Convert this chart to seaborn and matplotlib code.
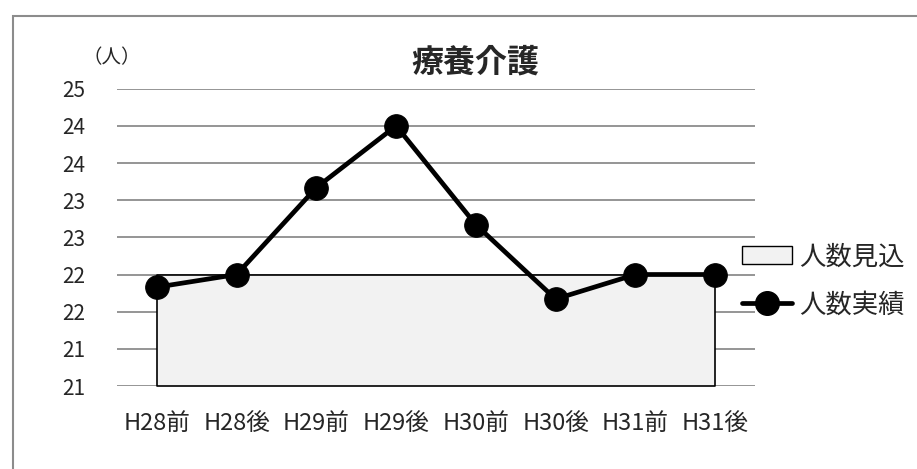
import matplotlib
matplotlib.use("Agg")
import matplotlib.pyplot as plt
import numpy as np
import pandas as pd
import seaborn as sns
from matplotlib.patches import Rectangle, Patch
from matplotlib.lines import Line2D

# data
periods = ["H28前", "H28後", "H29前", "H29後", "H30前", "H30後", "H31前", "H31後"]
actual = [22.33, 22.5, 23.67, 24.5, 23.17, 22.17, 22.5, 22.5]
planned = [22.5, 22.5, 22.5, 22.5, 22.5, 22.5, 22.5, 22.5]
y_ticks = [21, 21.5, 22, 22.5, 23, 23.5, 24, 24.5, 25]
y_tick_labels = ["21", "21", "22", "22", "23", "23", "24", "24", "25"]

sns.set_theme(style="white")
plt.rcParams["font.family"] = ["Noto Sans CJK JP", "DejaVu Sans"]

df = pd.DataFrame({"period": periods, "actual": actual, "planned": planned})
x = np.arange(len(periods))

fig = plt.figure(figsize=(9.17, 4.69), dpi=100)
ax = fig.add_axes([117 / 917, 1 - 386 / 469, (755 - 117) / 917, (386 - 88.7) / 469])

# outer frame of the chart area
fig.patches.append(Rectangle((13 / 917, -0.05), 1.1, 0.05 + 1 - 16 / 469,
                             transform=fig.transFigure, fill=False,
                             edgecolor="#8c8c8c", linewidth=1.5, zorder=0))

for t in y_ticks:
    ax.axhline(t, color="#8c8c8c", linewidth=1.3, zorder=1)

ax.fill_between(x, y_ticks[0], df["planned"], facecolor="#f2f2f2",
                edgecolor="black", linewidth=1.2, zorder=2)

sns.lineplot(data=df, x=x, y="actual", ax=ax, color="black", linewidth=3.4,
             marker="o", markersize=17, markeredgecolor="black", zorder=3)

ax.set_xlim(-0.5, len(periods) - 0.5)
ax.set_ylim(y_ticks[0], y_ticks[-1])
ax.set_xticks(x)
ax.set_xticklabels(periods, fontsize=17)
ax.set_yticks(y_ticks)
ax.set_yticklabels(y_tick_labels, fontsize=15)
ax.tick_params(axis="y", length=0, pad=23)
ax.tick_params(axis="x", length=0, pad=19)
ax.set_xlabel("")
ax.set_ylabel("")
for s in ax.spines.values():
    s.set_visible(False)

fig.text(475 / 917, 1 - 62 / 469, "療養介護", fontsize=23, fontweight="bold",
         ha="center", va="center")
fig.text(112 / 917, 1 - 58 / 469, "（人）", fontsize=14, ha="center", va="center")

handles = [
    Patch(facecolor="#f2f2f2", edgecolor="black", linewidth=1.0),
    Line2D([0], [0], color="black", linewidth=3.4, marker="o", markersize=17),
]
fig.legend(handles, ["人数見込", "人数実績"], loc="center left",
           bbox_to_anchor=(742 / 917, 1 - 281 / 469), frameon=False,
           borderpad=0, borderaxespad=0,
           fontsize=19, handlelength=1.9, handletextpad=0.25, labelspacing=0.8)

fig.savefig("out.png", dpi=100)
